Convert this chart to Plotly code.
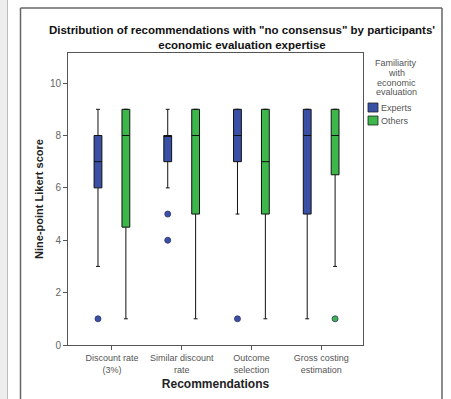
import plotly.graph_objects as go

categories = ["Discount rate<br>(3%)", "Similar discount<br>rate", "Outcome<br>selection", "Gross costing<br>estimation"]
groups = ["Experts", "Others"]
colors = {"Experts": "#3A50A6", "Others": "#3DB64C"}

experts_low = [3, 6, 5, 1]
experts_q1 = [6, 7, 7, 5]
experts_med = [7, 8, 8, 8]
experts_q3 = [8, 8, 9, 9]
experts_high = [9, 9, 9, 9]
experts_out_x = [0, 1, 1, 2]
experts_out_y = [1, 5, 4, 1]

others_low = [1, 1, 1, 3]
others_q1 = [4.5, 5, 5, 6.5]
others_med = [8, 8, 7, 8]
others_q3 = [9, 9, 9, 9]
others_high = [9, 9, 9, 9]
others_out_x = [3]
others_out_y = [1]

yticks = [0, 2, 4, 6, 8, 10]
legend_title_lines = ["Familiarity", "with", "economic", "evaluation"]

stats = {
    "Experts": (experts_low, experts_q1, experts_med, experts_q3, experts_high, experts_out_x, experts_out_y),
    "Others": (others_low, others_q1, others_med, others_q3, others_high, others_out_x, others_out_y),
}

fig = go.Figure()
for g in groups:
    lo, q1, med, q3, hi, ox, oy = stats[g]
    fig.add_trace(go.Box(
        x=categories, lowerfence=lo, q1=q1, median=med, q3=q3, upperfence=hi,
        name=g, offsetgroup=g, fillcolor=colors[g],
        line=dict(color="#111111", width=1), whiskerwidth=0.5, boxpoints=False,
        hoverinfo="skip", showlegend=False,
    ))
for g in groups:
    lo, q1, med, q3, hi, ox, oy = stats[g]
    fig.add_trace(go.Scatter(
        x=[categories[i] for i in ox], y=oy, mode="markers", offsetgroup=g,
        marker=dict(color=colors[g], size=6, line=dict(color="#333366", width=0.8)),
        showlegend=False, orientation="v",
    ))

L, R, T, B = 68, 363, 53, 345
W = R - L
H = B - T

def px(x):
    return (x - L) / W

def py(y):
    return (B - y) / H

shapes = [
    dict(type="rect", xref="paper", yref="paper", x0=px(0), x1=px(7), y0=py(399), y1=py(0),
         fillcolor="#EDEDED", line=dict(width=0), layer="below"),
    dict(type="line", xref="paper", yref="paper", x0=px(7.5), x1=px(7.5), y0=py(399), y1=py(0),
         line=dict(color="#BBBBBB", width=1)),
    dict(type="line", xref="paper", yref="paper", x0=px(20.5), x1=px(20.5), y0=py(399), y1=py(8),
         line=dict(color="#666666", width=1.5)),
    dict(type="line", xref="paper", yref="paper", x0=px(20.5), x1=px(442), y0=py(8), y1=py(8),
         line=dict(color="#666666", width=1.5)),
    dict(type="line", xref="paper", yref="paper", x0=px(442), x1=px(442), y0=py(8), y1=py(399),
         line=dict(color="#666666", width=1.5)),
]

# manual legend (title, swatches, labels)
annotations = []
for line, yy in zip(legend_title_lines, [63, 73, 83, 92]):
    annotations.append(dict(text=line, xref="paper", yref="paper", x=px(396), y=py(yy),
                            xanchor="center", yanchor="middle", showarrow=False,
                            font=dict(size=9, color="#555555")))
leg_y = [103, 116]
for g, yy in zip(groups, leg_y):
    shapes.append(dict(type="rect", xref="paper", yref="paper", x0=px(368), x1=px(378),
                       y0=py(yy + 9), y1=py(yy), fillcolor=colors[g],
                       line=dict(color="#222222", width=0.8)))
    annotations.append(dict(text=g, xref="paper", yref="paper", x=px(379), y=py(yy + 4.5),
                            xanchor="left", yanchor="middle", showarrow=False,
                            font=dict(size=9, color="#555555")))

fig.update_layout(
    width=451, height=399,
    margin=dict(l=L, r=451 - R, t=T, b=399 - B),
    paper_bgcolor="white", plot_bgcolor="white",
    boxmode="group", boxgap=0.2, boxgroupgap=0.72,
    scattermode="group", scattergap=0.2,
    font=dict(family="Liberation Sans, Arial, sans-serif", color="#555555", size=9),
    title=dict(
        text="Distribution of recommendations with \"no consensus\" by participants'<br>economic evaluation expertise",
        x=px(242), xref="paper", xanchor="center", y=1 - 34 / 399, yanchor="top",
        font=dict(size=11.5, color="#111111", family="Liberation Sans, Arial, sans-serif", weight="bold"),
    ),
    xaxis=dict(
        type="category", categoryorder="array", categoryarray=categories,
        range=[-0.63, 3.6], showline=True, linecolor="#555555", mirror=True,
        ticks="outside", ticklen=4, tickcolor="#555555", showgrid=False, automargin=False,
        tickfont=dict(size=9, color="#555555"),
        title=dict(text="Recommendations", standoff=6,
                   font=dict(size=12, color="#222222", weight="bold")),
    ),
    yaxis=dict(
        range=[0, 11.15], tickvals=yticks, showline=True, linecolor="#555555", mirror=True,
        ticks="outside", ticklen=4, tickcolor="#555555", showgrid=False, zeroline=False,
        automargin=False,
        tickfont=dict(size=10, color="#666666"),
        title=dict(text="Nine-point Likert score", standoff=4,
                   font=dict(size=11, color="#222222", weight="bold")),
    ),
    shapes=shapes,
    annotations=annotations,
    showlegend=False,
)

fig.write_html("out.html", post_script="document.body.style.margin='0';",
               config={"displayModeBar": False, "staticPlot": False})
